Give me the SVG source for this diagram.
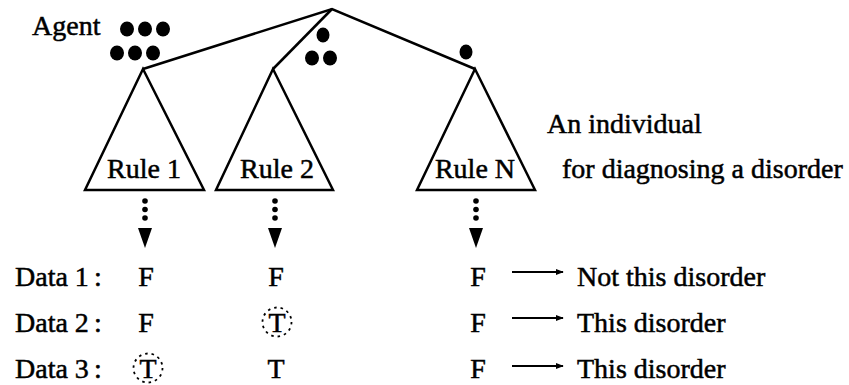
<svg xmlns="http://www.w3.org/2000/svg" width="849" height="385" viewBox="0 0 849 385">
<style>
.t{font-family:"Liberation Serif","Times New Roman",serif;font-size:28px;fill:#000;stroke:#000;stroke-width:0.5}
.m{text-anchor:middle}
.ln{stroke:#000;stroke-width:2.5;fill:none;stroke-linejoin:miter}
.tri{stroke:#000;stroke-width:2.5;fill:#fff}
.dc{stroke:#000;stroke-width:1.8;fill:none;stroke-dasharray:2.5 4}
</style>
<defs>
<marker id="ah" viewBox="0 0 10 10" refX="9" refY="5" markerWidth="4.5" markerHeight="4.5" orient="auto" markerUnits="strokeWidth">
<path d="M0,1 L10,5 L0,9 z" fill="#000"/>
</marker>
<g id="darr">
<circle cx="0" cy="0" r="2.8" fill="#000"/>
<circle cx="0" cy="8.5" r="2.8" fill="#000"/>
<circle cx="0" cy="17" r="2.8" fill="#000"/>
<path d="M-7,27 L7,27 L0,47 z" fill="#000"/>
</g>
</defs>
<g id="connectors">
<path class="ln" d="M143,69 L332,9 L475,69"/>
<path class="ln" d="M273,69 L332,9"/>
<use href="#darr" x="145" y="201"/>
<use href="#darr" x="275" y="201"/>
<use href="#darr" x="476" y="201"/>
<line x1="512" y1="272" x2="563" y2="272" stroke="#000" stroke-width="1.8" marker-end="url(#ah)"/>
<line x1="512" y1="318" x2="563" y2="318" stroke="#000" stroke-width="1.8" marker-end="url(#ah)"/>
<line x1="512" y1="366" x2="563" y2="366" stroke="#000" stroke-width="1.8" marker-end="url(#ah)"/>
</g>
<g id="agent">
<text class="t" x="32" y="35">Agent</text>
<ellipse cx="127" cy="29" rx="7" ry="7.5"/>
<ellipse cx="145" cy="29" rx="7" ry="7.5"/>
<ellipse cx="163" cy="29" rx="7" ry="7.5"/>
<ellipse cx="117" cy="53" rx="7" ry="7.5"/>
<ellipse cx="135" cy="53" rx="7" ry="7.5"/>
<ellipse cx="153" cy="53" rx="7" ry="7.5"/>
<ellipse cx="323" cy="35" rx="6.5" ry="7.5"/>
<ellipse cx="312" cy="58" rx="7" ry="7.5"/>
<ellipse cx="330" cy="58" rx="7" ry="7.5"/>
<ellipse cx="466" cy="52" rx="6.5" ry="7.5"/>
</g>
<g id="rule1">
<path class="tri" d="M143,69 L85,190 L204,190 z"/>
<text class="t m" x="144" y="178">Rule 1</text>
</g>
<g id="rule2">
<path class="tri" d="M273,69 L216,190 L333,190 z"/>
<text class="t m" x="277" y="178">Rule 2</text>
</g>
<g id="ruleN">
<path class="tri" d="M475,69 L417,190 L535,190 z"/>
<text class="t m" x="475" y="178">Rule N</text>
</g>
<g id="individual">
<text class="t" x="547" y="133">An individual</text>
<text class="t" x="562" y="178">for diagnosing a disorder</text>
</g>
<g id="data">
<text class="t" x="15" y="286">Data 1</text><text class="t" x="94" y="286">:</text>
<text class="t" x="15" y="332">Data 2</text><text class="t" x="94" y="332">:</text>
<text class="t" x="15" y="378">Data 3</text><text class="t" x="94" y="378">:</text>
<text class="t m" x="146" y="286">F</text>
<text class="t m" x="276" y="286">F</text>
<text class="t m" x="478" y="286">F</text>
<text class="t m" x="146" y="332">F</text>
<text class="t m" x="277" y="332">T</text>
<circle class="dc" cx="277" cy="322" r="14.5"/>
<text class="t m" x="478" y="332">F</text>
<text class="t m" x="148" y="378">T</text>
<circle class="dc" cx="148" cy="368" r="14.5"/>
<text class="t m" x="276" y="378">T</text>
<text class="t m" x="478" y="378">F</text>
<text class="t" x="577" y="286">Not this disorder</text>
<text class="t" x="577" y="332">This disorder</text>
<text class="t" x="577" y="378">This disorder</text>
</g>
</svg>
